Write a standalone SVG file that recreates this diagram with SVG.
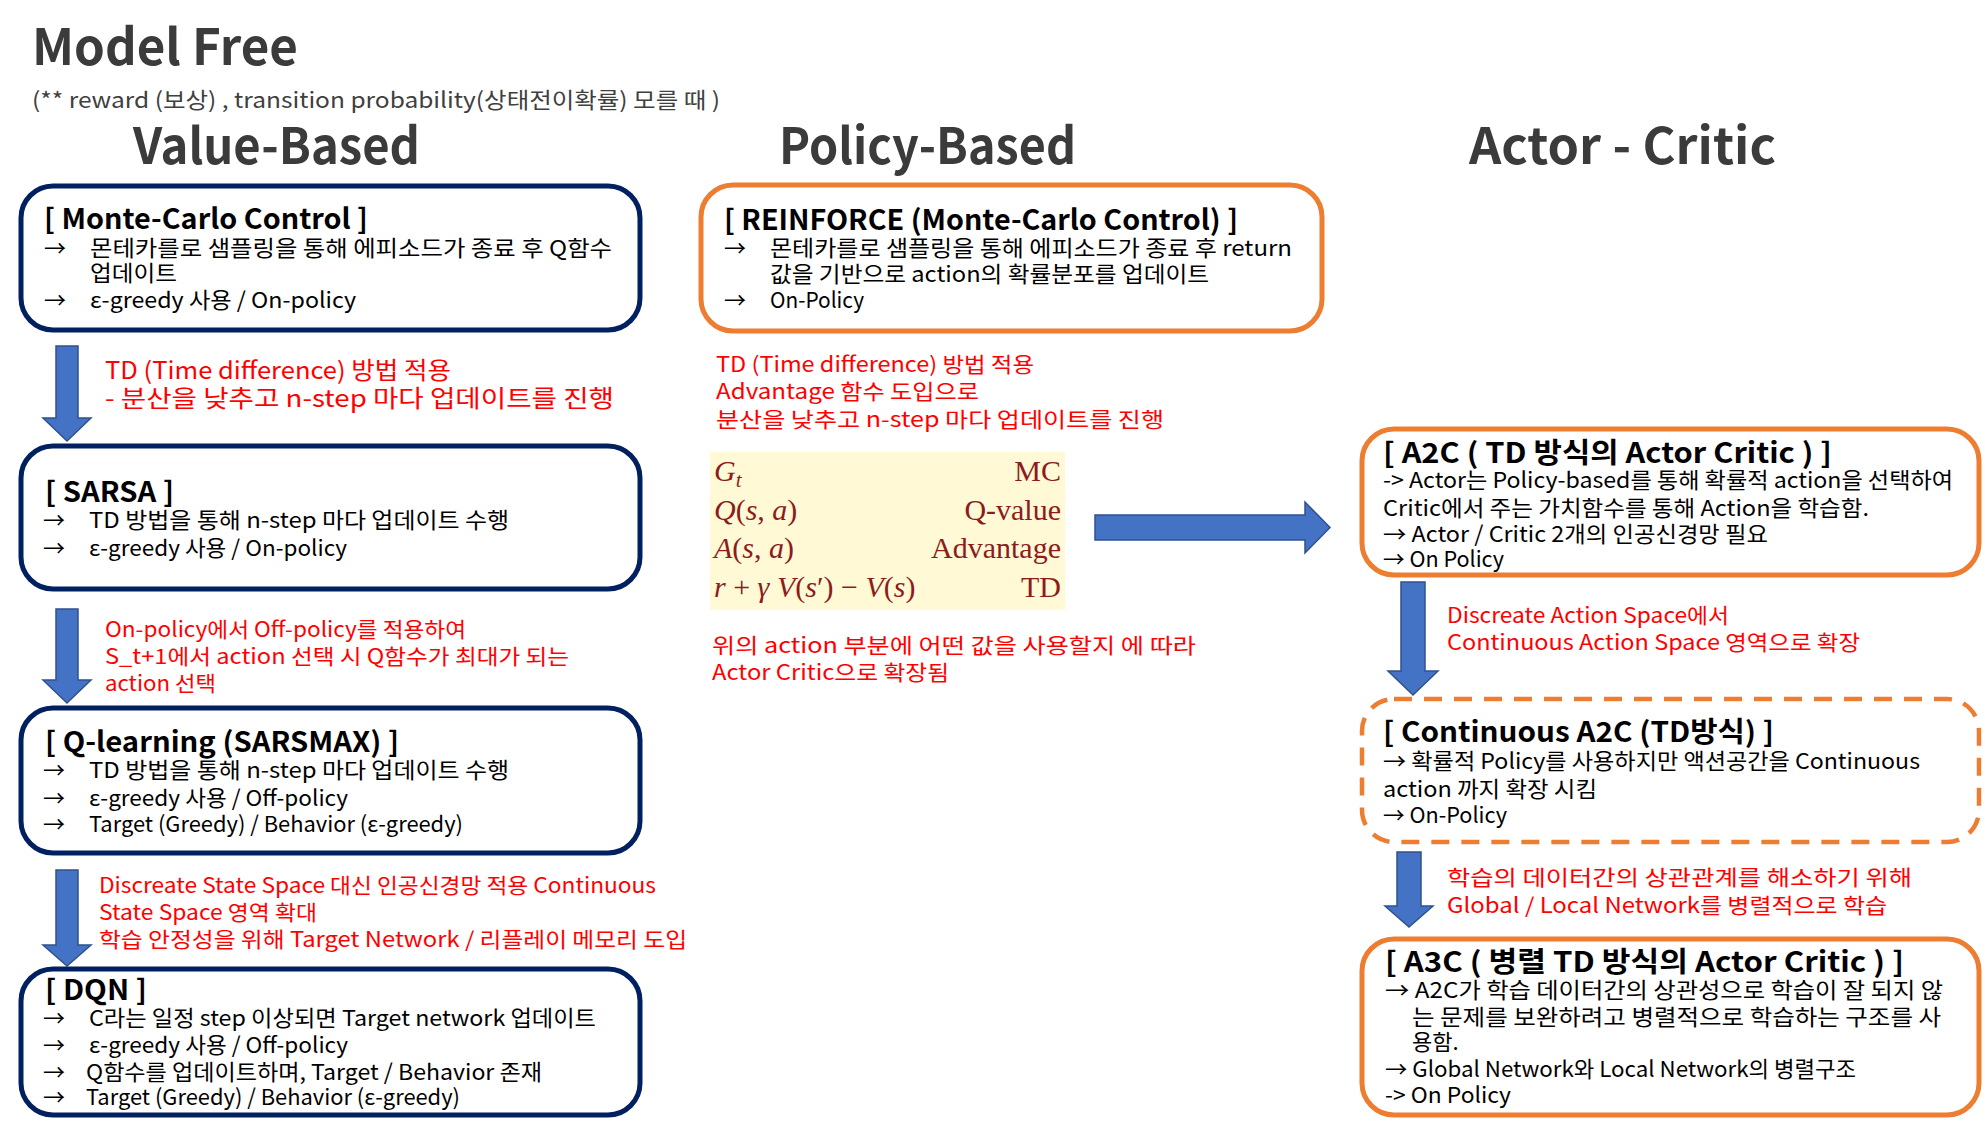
<svg xmlns="http://www.w3.org/2000/svg" width="1985" height="1124" viewBox="0 0 1985 1124">
<style>
text{font-family:"Noto Sans CJK KR","Noto Sans",sans-serif}
.title{font-size:50px;font-weight:700;fill:#3B3B3B}
.sub{font-size:22px;fill:#404040}
.hdr{font-size:28px;font-weight:700;fill:#000}
.b{font-size:22px;fill:#000}
.red{font-size:21px;fill:#FF0000}
.navy{fill:#fff;stroke:#002060;stroke-width:5}
.orange{fill:#fff;stroke:#ED7D31;stroke-width:5}
.dash{stroke-dasharray:18 12;stroke-width:4.5}
.arr{fill:#4472C4;stroke:#2F528F;stroke-width:1.5}
.f{font-family:"Liberation Serif","Times New Roman",serif;font-size:30px;fill:#8E1B1B}
.fi{font-style:italic}
</style>
<rect width="1985" height="1124" fill="#fff"/>
<g id="titles">
<text class="title" x="32" y="65" textLength="266" lengthAdjust="spacingAndGlyphs">Model Free</text>
<text class="sub" x="32" y="108" textLength="688" lengthAdjust="spacingAndGlyphs">(** reward (보상) , transition probability(상태전이확률) 모를 때 )</text>
<text class="title" x="133" y="164" textLength="287" lengthAdjust="spacingAndGlyphs">Value-Based</text>
<text class="title" x="779" y="164" textLength="297" lengthAdjust="spacingAndGlyphs">Policy-Based</text>
<text class="title" x="1469" y="164" textLength="307" lengthAdjust="spacingAndGlyphs">Actor - Critic</text>
</g>
<g id="connectors">
<polygon class="arr" points="56,346 78,346 78,418 91,418 67,441 43,418 56,418"/>
<polygon class="arr" points="56,609 78,609 78,680 91,680 67,703 43,680 56,680"/>
<polygon class="arr" points="56,870 78,870 78,945 91,945 67,966 43,945 56,945"/>
<polygon class="arr" points="1095,515 1305,515 1305,502 1330,527.5 1305,553 1305,540 1095,540"/>
<polygon class="arr" points="1401,582 1425,582 1425,671 1438,671 1413,695 1388,671 1401,671"/>
<polygon class="arr" points="1397,852 1421,852 1421,906 1433,906 1409,927 1385,906 1397,906"/>
</g>
<g id="labels">
<text class="red" style="font-size:24px" x="105" y="379" textLength="346" lengthAdjust="spacingAndGlyphs">TD (Time difference) 방법 적용</text>
<text class="red" style="font-size:24px" x="105" y="407" textLength="509" lengthAdjust="spacingAndGlyphs">- 분산을 낮추고 n-step 마다 업데이트를 진행</text>
<text class="red" x="105" y="637" textLength="361" lengthAdjust="spacingAndGlyphs">On-policy에서 Off-policy를 적용하여</text>
<text class="red" x="105" y="664" textLength="464" lengthAdjust="spacingAndGlyphs">S_t+1에서 action 선택 시 Q함수가 최대가 되는</text>
<text class="red" x="105" y="691" textLength="111" lengthAdjust="spacingAndGlyphs">action 선택</text>
<text class="red" x="99" y="893" textLength="557" lengthAdjust="spacingAndGlyphs">Discreate State Space 대신 인공신경망 적용 Continuous</text>
<text class="red" x="99" y="920" textLength="218" lengthAdjust="spacingAndGlyphs">State Space 영역 확대</text>
<text class="red" x="99" y="947" textLength="588" lengthAdjust="spacingAndGlyphs">학습 안정성을 위해 Target Network / 리플레이 메모리 도입</text>
<text class="red" x="716" y="372" textLength="318" lengthAdjust="spacingAndGlyphs">TD (Time difference) 방법 적용</text>
<text class="red" x="716" y="399" textLength="263" lengthAdjust="spacingAndGlyphs">Advantage 함수 도입으로</text>
<text class="red" x="716" y="427" textLength="448" lengthAdjust="spacingAndGlyphs">분산을 낮추고 n-step 마다 업데이트를 진행</text>
<text class="red" x="712" y="653" textLength="484" lengthAdjust="spacingAndGlyphs">위의 action 부분에 어떤 값을 사용할지 에 따라</text>
<text class="red" x="712" y="680" textLength="237" lengthAdjust="spacingAndGlyphs">Actor Critic으로 확장됨</text>
<text class="red" x="1447" y="623" textLength="282" lengthAdjust="spacingAndGlyphs">Discreate Action Space에서</text>
<text class="red" x="1447" y="650" textLength="413" lengthAdjust="spacingAndGlyphs">Continuous Action Space 영역으로 확장</text>
<text class="red" x="1447" y="885" textLength="465" lengthAdjust="spacingAndGlyphs">학습의 데이터간의 상관관계를 해소하기 위해</text>
<text class="red" x="1447" y="913" textLength="440" lengthAdjust="spacingAndGlyphs">Global / Local Network를 병렬적으로 학습</text>
</g>
<g id="mc-control">
<rect class="navy" x="21" y="186" width="619" height="144" rx="32"/>
<text class="hdr" x="44" y="229" textLength="324" lengthAdjust="spacingAndGlyphs">[ Monte-Carlo Control ]</text>
<text class="b" x="44" y="256">→</text>
<text class="b" x="90" y="256" textLength="522" lengthAdjust="spacingAndGlyphs">몬테카를로 샘플링을 통해 에피소드가 종료 후 Q함수</text>
<text class="b" x="90" y="281" textLength="87" lengthAdjust="spacingAndGlyphs">업데이트</text>
<text class="b" x="44" y="308">→</text>
<text class="b" x="90" y="308" textLength="266" lengthAdjust="spacingAndGlyphs">ε-greedy 사용  / On-policy</text>
</g>
<g id="sarsa">
<rect class="navy" x="21" y="446" width="619" height="143" rx="32"/>
<text class="hdr" x="45" y="502" textLength="129" lengthAdjust="spacingAndGlyphs">[ SARSA ]</text>
<text class="b" x="43" y="528">→</text>
<text class="b" x="89" y="528" textLength="420" lengthAdjust="spacingAndGlyphs">TD 방법을 통해 n-step 마다 업데이트 수행</text>
<text class="b" x="43" y="556">→</text>
<text class="b" x="89" y="556" textLength="258" lengthAdjust="spacingAndGlyphs">ε-greedy 사용 / On-policy</text>
</g>
<g id="q-learning">
<rect class="navy" x="21" y="708" width="619" height="145" rx="32"/>
<text class="hdr" x="45" y="752" textLength="354" lengthAdjust="spacingAndGlyphs">[ Q-learning (SARSMAX) ]</text>
<text class="b" x="43" y="778">→</text>
<text class="b" x="89" y="778" textLength="420" lengthAdjust="spacingAndGlyphs">TD 방법을 통해 n-step 마다 업데이트 수행</text>
<text class="b" x="43" y="806">→</text>
<text class="b" x="89" y="806" textLength="259" lengthAdjust="spacingAndGlyphs">ε-greedy 사용 / Off-policy</text>
<text class="b" x="43" y="832">→</text>
<text class="b" x="89" y="832" textLength="374" lengthAdjust="spacingAndGlyphs">Target (Greedy) / Behavior (ε-greedy)</text>
</g>
<g id="dqn">
<rect class="navy" x="21" y="969" width="619" height="146" rx="32"/>
<text class="hdr" x="45" y="1000" textLength="102" lengthAdjust="spacingAndGlyphs">[ DQN ]</text>
<text class="b" x="43" y="1026">→</text>
<text class="b" x="89" y="1026" textLength="507" lengthAdjust="spacingAndGlyphs">C라는 일정 step 이상되면 Target network 업데이트</text>
<text class="b" x="43" y="1053">→</text>
<text class="b" x="89" y="1053" textLength="259" lengthAdjust="spacingAndGlyphs">ε-greedy 사용 / Off-policy</text>
<text class="b" x="43" y="1080">→</text>
<text class="b" x="86" y="1080" textLength="456" lengthAdjust="spacingAndGlyphs">Q함수를 업데이트하며, Target / Behavior 존재</text>
<text class="b" x="43" y="1105">→</text>
<text class="b" x="86" y="1105" textLength="374" lengthAdjust="spacingAndGlyphs">Target (Greedy) / Behavior (ε-greedy)</text>
</g>
<g id="reinforce">
<rect class="orange" x="701" y="185" width="621" height="146" rx="32"/>
<text class="hdr" x="724" y="230" textLength="514" lengthAdjust="spacingAndGlyphs">[ REINFORCE (Monte-Carlo Control) ]</text>
<text class="b" x="724" y="256">→</text>
<text class="b" x="770" y="256" textLength="522" lengthAdjust="spacingAndGlyphs">몬테카를로 샘플링을 통해 에피소드가 종료 후 return</text>
<text class="b" x="770" y="282" textLength="439" lengthAdjust="spacingAndGlyphs">값을 기반으로 action의 확률분포를 업데이트</text>
<text class="b" x="724" y="308">→</text>
<text class="b" x="770" y="308" textLength="94" lengthAdjust="spacingAndGlyphs">On-Policy</text>
</g>
<g id="formula">
<rect x="710" y="452" width="355" height="158" fill="#FFF9D6"/>
<text class="f" x="714" y="481"><tspan class="fi">G</tspan><tspan class="fi" font-size="21" dy="6">t</tspan></text>
<text class="f" x="714" y="520"><tspan class="fi">Q</tspan>(<tspan class="fi">s</tspan>, <tspan class="fi">a</tspan>)</text>
<text class="f" x="714" y="558"><tspan class="fi">A</tspan>(<tspan class="fi">s</tspan>, <tspan class="fi">a</tspan>)</text>
<text class="f" x="714" y="597"><tspan class="fi">r</tspan> + <tspan class="fi">γ V</tspan>(<tspan class="fi">s</tspan>′) − <tspan class="fi">V</tspan>(<tspan class="fi">s</tspan>)</text>
<text class="f" x="1061" y="481" text-anchor="end">MC</text>
<text class="f" x="1061" y="520" text-anchor="end">Q-value</text>
<text class="f" x="1061" y="558" text-anchor="end">Advantage</text>
<text class="f" x="1061" y="597" text-anchor="end">TD</text>
</g>
<g id="a2c">
<rect class="orange" x="1362" y="429" width="617" height="146" rx="32"/>
<text class="hdr" x="1383" y="463" textLength="449" lengthAdjust="spacingAndGlyphs">[ A2C ( TD 방식의 Actor Critic ) ]</text>
<text class="b" x="1383" y="488" textLength="570" lengthAdjust="spacingAndGlyphs">-&gt; Actor는 Policy-based를 통해 확률적 action을 선택하여</text>
<text class="b" x="1383" y="516" textLength="486" lengthAdjust="spacingAndGlyphs">Critic에서 주는 가치함수를 통해 Action을 학습함.</text>
<text class="b" x="1383" y="542" textLength="385" lengthAdjust="spacingAndGlyphs">→ Actor / Critic 2개의 인공신경망 필요</text>
<text class="b" x="1383" y="567" textLength="121" lengthAdjust="spacingAndGlyphs">→ On Policy</text>
</g>
<g id="continuous-a2c">
<rect class="orange dash" x="1362" y="699" width="617" height="143" rx="32"/>
<text class="hdr" x="1383" y="742" textLength="391" lengthAdjust="spacingAndGlyphs">[ Continuous A2C (TD방식) ]</text>
<text class="b" x="1383" y="769" textLength="537" lengthAdjust="spacingAndGlyphs">→ 확률적 Policy를 사용하지만 액션공간을 Continuous</text>
<text class="b" x="1383" y="797" textLength="214" lengthAdjust="spacingAndGlyphs">action 까지 확장 시킴</text>
<text class="b" x="1383" y="823" textLength="124" lengthAdjust="spacingAndGlyphs">→ On-Policy</text>
</g>
<g id="a3c">
<rect class="orange" x="1362" y="939" width="617" height="176" rx="32"/>
<text class="hdr" x="1385" y="972" textLength="519" lengthAdjust="spacingAndGlyphs">[ A3C ( 병렬 TD 방식의 Actor Critic ) ]</text>
<text class="b" x="1385" y="998" textLength="558" lengthAdjust="spacingAndGlyphs">→ A2C가 학습 데이터간의 상관성으로 학습이 잘 되지 않</text>
<text class="b" x="1412" y="1025" textLength="529" lengthAdjust="spacingAndGlyphs">는 문제를 보완하려고 병렬적으로 학습하는 구조를 사</text>
<text class="b" x="1412" y="1050">용함.</text>
<text class="b" x="1385" y="1077" textLength="471" lengthAdjust="spacingAndGlyphs">→ Global  Network와 Local Network의 병렬구조</text>
<text class="b" x="1385" y="1103" textLength="126" lengthAdjust="spacingAndGlyphs">-&gt; On Policy</text>
</g>
</svg>
